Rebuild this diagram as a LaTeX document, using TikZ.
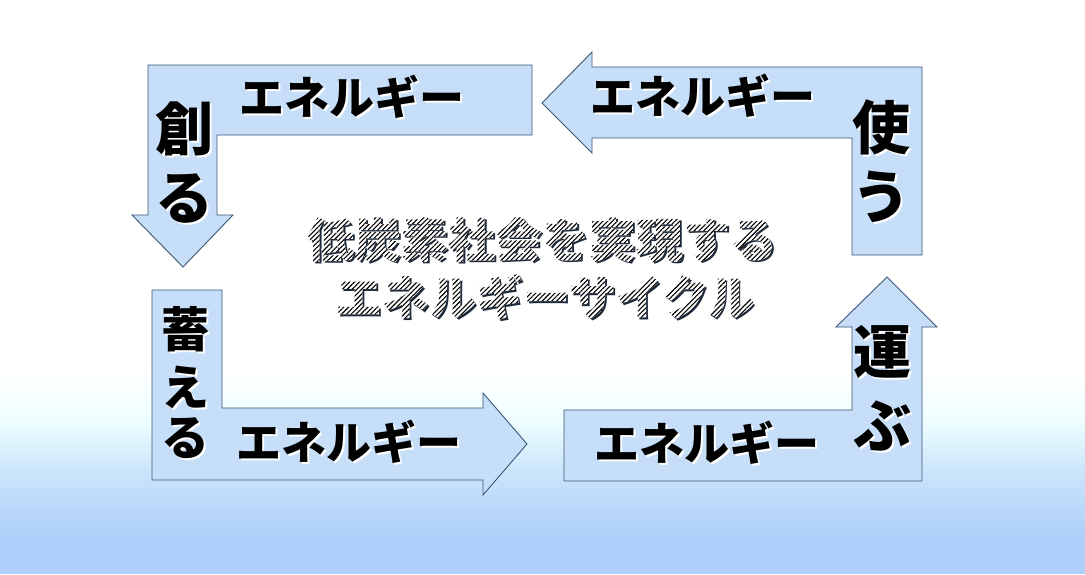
\documentclass[tikz,border=0pt]{standalone}
\usepackage{fontspec}
\newfontfamily\jp{Noto Sans CJK JP}
\usetikzlibrary{patterns.meta}

\definecolor{arrowfill}{HTML}{C6DEF8}
\definecolor{arrowline}{HTML}{3B5878}
\definecolor{bgA}{HTML}{EEFFFF}
\definecolor{bgB}{HTML}{CBE5FA}
\definecolor{bgC}{HTML}{AECFF9}
\definecolor{titleshadow}{HTML}{1E2A3A}

\newcommand\glowtxt[1]{\leavevmode\rlap{\kern2pt\raisebox{-2pt}{\color{white}#1}}#1}

\makeatletter
\newcommand\hatchtext[1]{%
  \leavevmode
  \rlap{\kern2pt\raisebox{-2pt}{\color{titleshadow}#1}}%
  \pgfsys@invoke{q 7 Tr}%
  \rlap{#1}%
  \pgfsys@invoke{0 Tr}%
  \rlap{\tikz[baseline=0pt, x=1pt, y=1pt]{%
     \fill[white] (0,-15) rectangle (490,52);
     \fill[pattern={Lines[angle=45,distance=3.4pt,line width=1.1pt]}, pattern color=black]
        (0,-15) rectangle (490,52);}}%
  \pgfsys@invoke{Q}%
  \phantom{#1}}
\makeatother

\tikzset{
  bentarrow/.style={fill=arrowfill, draw=arrowline, line width=0.9pt, line join=miter},
  lbl/.style={font=\jp\bfseries\fontsize{45}{45}\selectfont, inner sep=0pt, text=black},
  verbbig/.style={font=\jp\bfseries\fontsize{58}{58}\selectfont, inner sep=0pt, text=black},
  verbsmall/.style={font=\jp\bfseries\fontsize{48}{48}\selectfont, inner sep=0pt, text=black},
  titlefont/.style={font=\jp\bfseries\fontsize{47}{47}\selectfont, inner sep=0pt},
}

\begin{document}
\begin{tikzpicture}[x=1pt, y=-1pt]
  \useasboundingbox (0,0) rectangle (1085,574);
  % background
  \fill[white] (0,0) rectangle (1085,574);
  \shade[top color=white, bottom color=bgA] (0,370) rectangle (1085,420.5);
  \shade[top color=bgA, bottom color=bgB] (0,420) rectangle (1085,470.5);
  \shade[top color=bgB, bottom color=bgC] (0,470) rectangle (1085,535.5);
  \fill[bgC] (0,535) rectangle (1085,574);

  % bent arrows
  \draw[bentarrow] (148,65) -- (532,65) -- (532,135) -- (217,135) -- (217,215)
     -- (233,215) -- (183,267) -- (132,215) -- (148,215) -- cycle;
  \draw[bentarrow] (922,67) -- (922,255) -- (852,255) -- (852,138) -- (592,138)
     -- (592,153) -- (542,103) -- (592,52) -- (592,67) -- cycle;
  \draw[bentarrow] (152,290) -- (222,290) -- (222,408) -- (483,408) -- (483,393)
     -- (527,444) -- (483,495) -- (483,480) -- (152,480) -- cycle;
  \draw[bentarrow] (564,410) -- (852,410) -- (852,327) -- (836,327) -- (887,277)
     -- (937,327) -- (922,327) -- (922,481) -- (564,481) -- cycle;

  % labels
  \node[lbl] (e1) at (352,98) {\glowtxt{エネルギー}};
  \node[lbl] (e2) at (703,97) {\glowtxt{エネルギー}};
  \node[lbl] (e3) at (349,443) {\glowtxt{エネルギー}};
  \node[lbl] (e4) at (707,444) {\glowtxt{エネルギー}};

  \node[verbbig] (v1a) at (184,130) {\glowtxt{創}};
  \node[verbbig] (v1b) at (184,199) {\glowtxt{る}};
  \node[verbbig] (v2a) at (881,128) {\glowtxt{使}};
  \node[verbbig] (v2b) at (881,198) {\glowtxt{う}};
  \node[verbbig] (v4a) at (882,353) {\glowtxt{運}};
  \node[verbbig] (v4b) at (882,427) {\glowtxt{ぶ}};
  \node[verbsmall] (v3a) at (185,330) {\glowtxt{蓄}};
  \node[verbsmall] (v3b) at (185,388) {\glowtxt{え}};
  \node[verbsmall] (v3c) at (185,439) {\glowtxt{る}};

  % title
  \node[titlefont] (t1) at (542,239) {\hatchtext{低炭素社会を実現する}};
  \node[titlefont] (t2) at (545,296.5) {\hatchtext{エネルギーサイクル}};
\end{tikzpicture}
\end{document}
